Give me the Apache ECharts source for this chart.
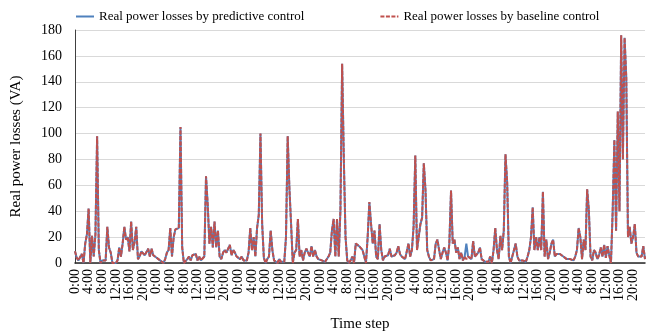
<!DOCTYPE html>
<html><head><meta charset="utf-8">
<script src="https://cdn.jsdelivr.net/npm/echarts@6/dist/echarts.min.js"></script>
<style>html,body{margin:0;padding:0;background:#fff}#c{width:658px;height:331px}</style>
</head><body><div id="c"></div>
<script>
// Half-hourly time-of-day labels (one day), repeated for 7 days
const timeOfDay = ['0:00','0:30','1:00','1:30','2:00','2:30','3:00','3:30','4:00','4:30','5:00','5:30',
  '6:00','6:30','7:00','7:30','8:00','8:30','9:00','9:30','10:00','10:30','11:00','11:30',
  '12:00','12:30','13:00','13:30','14:00','14:30','15:00','15:30','16:00','16:30','17:00','17:30',
  '18:00','18:30','19:00','19:30','20:00','20:30','21:00','21:30','22:00','22:30','23:00','23:30'];
const labelEvery = 8; // a tick label every 4 hours
const yTicks = [0,20,40,60,80,100,120,140,160,180];

// Real power losses by predictive control (VA), per day
const pred1 = [9,4,2,2,7,0,15,22,42,0,21,5,22,98,10,0,2,3,2,28,12,8,0,1,0,2,12,5,15,28,18,20,9,32,10,16,28,3,5,9,8,6,6,11,5,11,6,5];
const pred2 = [4,3,2,1,0,3,8,10,27,5,20,26,25,27,105,12,0,1,3,5,2,6,6,7,2,5,2,3,5,67,45,15,28,12,32,12,25,5,3,8,10,8,7,14,6,10,8,5];
const pred3 = [5,3,5,2,3,2,8,27,10,20,5,27,37,100,30,4,0,3,5,25,10,2,1,0,3,1,2,1,20,98,58,30,0,8,10,34,5,10,2,8,11,8,5,13,5,10,5,3];
const pred4 = [3,2,2,1,1,5,8,25,34,5,34,5,41,154,80,20,2,0,2,5,0,15,14,13,14,10,5,0,20,47,30,15,25,5,3,30,10,2,5,5,6,11,5,6,6,8,13,7];
const pred5 = [5,4,3,2,15,5,10,28,83,10,20,30,35,77,56,10,5,2,2,3,15,18,10,3,8,12,8,2,15,56,15,18,8,12,3,8,2,5,15,5,5,3,17,5,6,8,12,3];
const pred6 = [2,1,2,1,5,0,10,27,10,3,21,10,25,84,62,5,0,5,10,15,5,2,1,2,1,1,5,10,20,43,10,20,10,20,10,55,5,18,3,8,15,18,5,7,8,7,6,5];
const pred7 = [5,3,2,3,2,2,5,10,27,20,3,18,10,57,41,5,2,10,8,3,6,12,5,14,4,13,6,0,40,95,25,117,40,176,80,174,143,20,28,15,20,30,8,5,5,5,13,3];

// Real power losses by baseline control (VA), per day
const base1 = [9,4,2,2,7,0,15,22,42,0,21,5,22,98,10,0,2,3,2,28,12,8,0,1,0,2,12,5,15,28,18,20,9,32,10,16,28,3,5,9,8,6,6,11,5,11,6,5];
const base2 = [4,3,2,1,0,3,8,10,27,5,20,26,25,27,105,12,0,1,3,5,2,6,6,7,2,5,2,3,5,67,45,15,28,12,32,12,25,5,3,8,10,8,7,14,6,10,8,5];
const base3 = [5,3,5,2,3,2,8,27,10,20,5,27,37,100,30,4,0,3,5,25,10,2,1,0,3,1,2,1,20,98,58,30,0,8,10,34,5,10,2,8,11,8,5,13,5,10,5,3];
const base4 = [3,2,2,1,1,5,8,25,34,5,34,5,41,154,80,20,2,0,2,5,0,15,14,13,14,10,5,0,20,47,30,15,25,5,3,30,10,2,5,5,6,11,5,6,6,8,13,7];
const base5 = [5,4,3,2,15,5,10,28,83,10,20,30,35,77,56,10,5,2,2,3,15,18,10,3,8,12,8,2,15,56,15,18,8,12,3,8,2,5,3,5,5,3,17,5,6,8,12,3];
const base6 = [2,1,2,1,5,0,10,27,10,3,21,10,25,84,62,5,0,5,10,15,5,2,1,2,1,1,5,10,20,43,10,20,10,20,10,55,5,18,3,8,15,18,5,7,8,7,6,5];
const base7 = [5,3,2,3,2,2,5,10,27,20,3,18,10,57,41,5,2,10,8,3,6,12,5,14,4,13,6,0,40,95,25,117,40,176,80,174,143,20,28,15,20,30,8,5,5,5,13,3];

const predictive = [].concat(pred1,pred2,pred3,pred4,pred5,pred6,pred7);
const baseline = [].concat(base1,base2,base3,base4,base5,base6,base7);
const categories = [].concat(timeOfDay,timeOfDay,timeOfDay,timeOfDay,timeOfDay,timeOfDay,timeOfDay);

const FONT = "'Liberation Serif','Times New Roman',serif";
const chart = echarts.init(document.getElementById('c'), null, {renderer:'canvas'});
chart.setOption({
  animation: false,
  backgroundColor: '#fff',
  textStyle: {fontFamily: FONT, color: '#000'},
  legend: {
    left: 70, top: 5, itemWidth: 18, itemHeight: 8, itemGap: 75,
    itemStyle: {opacity: 0},
    textStyle: {fontFamily: FONT, fontSize: 13, color: '#000'},
    data: ['Real power losses by predictive control', 'Real power losses by baseline control']
  },
  grid: {left: 75, right: 13, top: 30, bottom: 68, containLabel: false, outerBoundsMode: 'none'},
  xAxis: {
    type: 'category', data: categories, boundaryGap: false,
    name: 'Time step', nameLocation: 'middle', nameGap: 54,
    nameTextStyle: {fontFamily: FONT, fontSize: 15, color: '#000'},
    axisLine: {lineStyle: {color: '#262626', width: 1.5}},
    axisTick: {show: false},
    axisLabel: {interval: 0, rotate: 90, margin: 6, fontFamily: FONT, fontSize: 14, color: '#000',
      hideOverlap: false,
      formatter: function (v, i) { return i % labelEvery === 0 ? v : ''; }},
    splitLine: {show: false}
  },
  yAxis: {
    type: 'value', min: yTicks[0], max: yTicks[yTicks.length-1], interval: 20,
    name: 'Real power losses (VA)', nameLocation: 'middle', nameGap: 51,
    nameTextStyle: {fontFamily: FONT, fontSize: 15, color: '#000'},
    axisLine: {show: true, lineStyle: {color: '#404040', width: 1}},
    axisTick: {show: false},
    axisLabel: {margin: 13, fontFamily: FONT, fontSize: 14, color: '#000'},
    splitLine: {lineStyle: {color: '#d9d9d9', width: 1}}
  },
  series: [
    {name: 'Real power losses by predictive control', type: 'line', data: predictive,
     symbol: 'none', showSymbol: false, lineStyle: {color: '#4F81BD', width: 2}, itemStyle: {color: '#4F81BD'}},
    {name: 'Real power losses by baseline control', type: 'line', data: baseline,
     symbol: 'none', showSymbol: false, lineStyle: {color: '#C0504D', width: 2, type: [4, 1.5]}, itemStyle: {color: '#C0504D'}}
  ]
});
</script>
</body></html>
